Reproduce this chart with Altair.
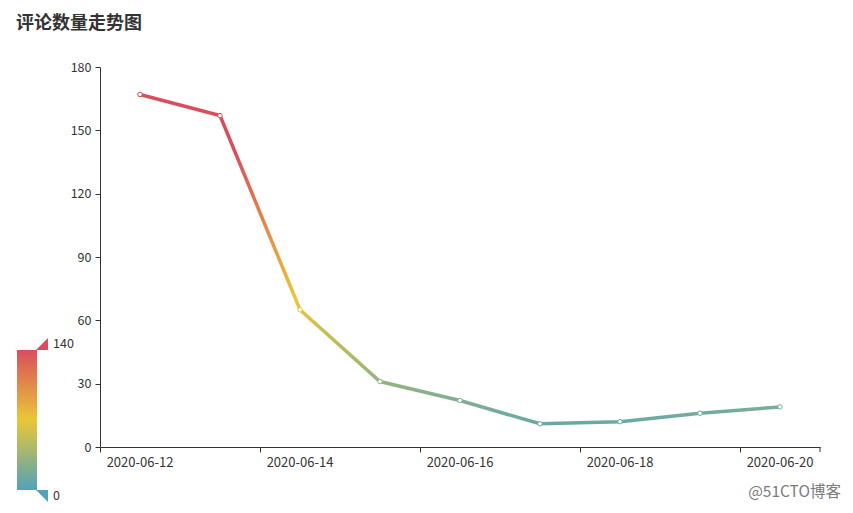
import altair as alt
import pandas as pd

# ---- data ----
dates = ["2020-06-12", "2020-06-13", "2020-06-14", "2020-06-15", "2020-06-16",
         "2020-06-17", "2020-06-18", "2020-06-19", "2020-06-20"]
counts = [167, 157, 65, 31, 22, 11, 12, 16, 19]
label_dates = ["2020-06-12", "2020-06-14", "2020-06-16", "2020-06-18", "2020-06-20"]
y_ticks = [0, 30, 60, 90, 120, 150, 180]
map_values = [0, 70, 140]
map_colors = ["#50a3ba", "#eac736", "#d94e5d"]
legend_labels = [0, 140]
title_text = "评论数量走势图"
watermark = ["@51CTO博客"]

df = pd.DataFrame({"date": dates, "value": counts})

FONT = "Noto Sans CJK SC"
AX = "#333333"


def hex2rgb(h):
    h = h.lstrip("#")
    return [int(h[i:i + 2], 16) for i in (0, 2, 4)]


def color_at(v):
    v = max(map_values[0], min(map_values[-1], v))
    for i in range(len(map_values) - 1):
        a, b = map_values[i], map_values[i + 1]
        if a <= v <= b:
            t = (v - a) / (b - a)
            ca, cb = hex2rgb(map_colors[i]), hex2rgb(map_colors[i + 1])
            c = [round(ca[k] + t * (cb[k] - ca[k])) for k in range(3)]
            return "#%02x%02x%02x" % tuple(c)
    return map_colors[-1]


vmax, vmin = max(counts), min(counts)
stop_vals = sorted({vmax, vmin} | {m for m in map_values if vmin < m < vmax}, reverse=True)
stops = [alt.GradientStop(offset=(vmax - v) / (vmax - vmin), color=color_at(v)) for v in stop_vals]
line_grad = alt.LinearGradient(gradient="linear", stops=stops, x1=0, y1=0, x2=0, y2=1)

x_enc = alt.X(
    "date:N", sort=None, bandPosition=0.5,
    scale=alt.Scale(type="band", paddingInner=0, paddingOuter=0),
    axis=alt.Axis(values=label_dates, bandPosition=0, labelAngle=0, title=None,
                  tickSize=5, tickColor=AX, domainColor=AX, labelColor=AX,
                  labelFont=FONT, labelFontSize=13, labelPadding=4, grid=False),
)
y_enc = alt.Y(
    "value:Q", scale=alt.Scale(domain=[0, 180]),
    axis=alt.Axis(values=y_ticks, title=None, tickSize=5, tickColor=AX, domainColor=AX,
                  labelColor=AX, labelFont=FONT, labelFontSize=12.5, labelPadding=4, grid=False),
)

color_scale = alt.Scale(domain=map_values, range=map_colors, clamp=True, interpolate="rgb")

line = alt.Chart(df).mark_line(stroke=line_grad, strokeWidth=3.5).encode(x=x_enc, y=y_enc)

points = alt.Chart(df).mark_point(filled=False, fill="white", fillOpacity=1, size=20,
                                  strokeWidth=1, opacity=1).encode(
    x=x_enc, y=y_enc,
    stroke=alt.Color("value:Q", scale=color_scale,
                     legend=alt.Legend(orient="none", legendX=-83, legendY=283,
                                       direction="vertical", gradientLength=140,
                                       gradientThickness=20, values=legend_labels,
                                       title=None, labelExpr="''", labelOpacity=0,
                                       gradientStrokeWidth=0)),
)

end_tick = alt.Chart(df.tail(1)).mark_rule(color=AX, strokeWidth=1).encode(
    x=alt.X("date:N", sort=None, bandPosition=1,
            scale=alt.Scale(type="band", paddingInner=0, paddingOuter=0)),
    y=alt.value(380), y2=alt.value(385),
)

handles = pd.DataFrame({"label": [str(v) for v in legend_labels]})
top_handle = alt.Chart(handles.tail(1)).mark_point(
    shape="M -1 1 L 1 -1 L 1 1 Z", filled=True, size=144, color=map_colors[-1], opacity=1
).encode(x=alt.value(-58), y=alt.value(277))
bottom_handle = alt.Chart(handles.head(1)).mark_point(
    shape="M -1 -1 L 1 -1 L 1 1 Z", filled=True, size=144, color=map_colors[0], opacity=1
).encode(x=alt.value(-58), y=alt.value(429))

top_label = alt.Chart(handles.tail(1)).mark_text(
    align="left", baseline="middle", font=FONT, fontSize=12.5, color=AX
).encode(text="label:N", x=alt.value(-47), y=alt.value(277))
bottom_label = alt.Chart(handles.head(1)).mark_text(
    align="left", baseline="middle", font=FONT, fontSize=12.5, color=AX
).encode(text="label:N", x=alt.value(-47), y=alt.value(429))

wm = alt.Chart(pd.DataFrame({"t": watermark})).mark_text(
    align="right", baseline="middle", font=FONT, fontSize=15.5, color="#7a7a7a"
).encode(text="t:N", x=alt.value(741), y=alt.value(425))

chart = alt.layer(line, points, end_tick, top_handle, bottom_handle,
                  top_label, bottom_label, wm).properties(
    width=720, height=380,
    autosize=alt.AutoSizeParams(type="none"),
    padding={"left": 92, "top": 59, "right": 25, "bottom": 58},
    title=alt.TitleParams(title_text, anchor="start", frame="group", dx=-84, offset=10,
                          baseline="bottom", font=FONT, fontSize=18, fontWeight="bold",
                          color=AX),
).configure_view(stroke=None).resolve_scale(x="shared")

chart.save("out.html", embed_options={"renderer": "svg", "actions": False})
